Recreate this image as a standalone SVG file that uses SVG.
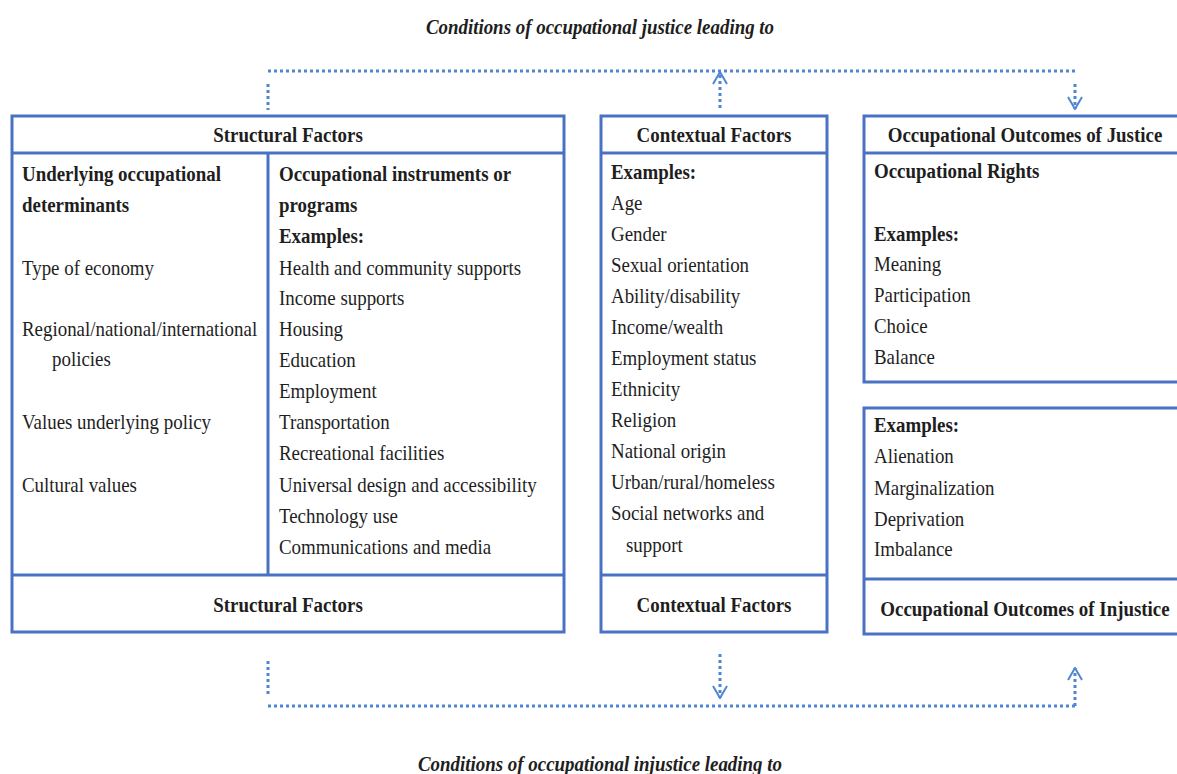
<svg xmlns="http://www.w3.org/2000/svg" width="1177" height="774" viewBox="0 0 1177 774">
<style>
.box{fill:#fff;stroke:#4a72c4;stroke-width:3}
.ln{stroke:#4a72c4;stroke-width:3;fill:none}
.dot{stroke:#4f86d4;stroke-width:3;fill:none;stroke-dasharray:3 3}
.t{font-family:"Liberation Serif","Times New Roman",serif;font-size:22px;fill:#1e1e1e}
.b{font-weight:bold}
.c{text-anchor:middle}
.ti{font-family:"Liberation Serif","Times New Roman",serif;font-size:22px;font-weight:bold;font-style:italic;fill:#1e1e1e;text-anchor:middle}
</style>
<defs>
<marker id="chev" viewBox="0 0 14 16" refX="13" refY="8" markerWidth="14" markerHeight="16" markerUnits="userSpaceOnUse" orient="auto">
<path d="M1,1 L13,8 L1,15" fill="none" stroke="#4f86d4" stroke-width="2"/>
</marker>
</defs>
<g id="connectors">
<path class="dot" d="M268,71 H1075"/>
<path class="dot" d="M268,84 V110"/>
<path class="dot" d="M720,108 V72" marker-end="url(#chev)"/>
<path class="dot" d="M1075,84 V109" marker-end="url(#chev)"/>
<path class="dot" d="M268,706 H1075"/>
<path class="dot" d="M268,661 V696"/>
<path class="dot" d="M720,654 V698" marker-end="url(#chev)"/>
<path class="dot" d="M1075,706 V668" marker-end="url(#chev)"/>
</g>
<g id="structural">
<rect class="box" x="12" y="116" width="552" height="516"/>
<path class="ln" d="M12,153 H564 M12,575 H564 M268,153 V575"/>
</g>
<g id="contextual">
<rect class="box" x="601" y="116" width="226" height="516"/>
<path class="ln" d="M601,153 H827 M601,575 H827"/>
</g>
<g id="justice">
<rect class="box" x="864" y="116" width="330" height="266"/>
<path class="ln" d="M864,153 H1194"/>
</g>
<g id="injustice">
<rect class="box" x="864" y="408" width="330" height="226"/>
<path class="ln" d="M864,579 H1194"/>
</g>
<g id="texts" transform="scale(0.86 1)">
<text class="ti" x="697.67" y="34">Conditions of occupational justice leading to</text>
<text class="ti" x="697.67" y="771">Conditions of occupational injustice leading to</text>
<text class="t b c" x="334.88" y="142">Structural Factors</text>
<text class="t b c" x="334.88" y="612">Structural Factors</text>
<text class="t b c" x="830.23" y="142">Contextual Factors</text>
<text class="t b c" x="830.23" y="612">Contextual Factors</text>
<text class="t b c" x="1191.86" y="142">Occupational Outcomes of Justice</text>
<text class="t b c" x="1191.86" y="616">Occupational Outcomes of Injustice</text>
<text class="t b" x="25.58" y="181">Underlying occupational</text>
<text class="t b" x="25.58" y="212">determinants</text>
<text class="t" x="25.58" y="275">Type of economy</text>
<text class="t" x="25.58" y="336">Regional/national/international</text>
<text class="t" x="60.47" y="366">policies</text>
<text class="t" x="25.58" y="429">Values underlying policy</text>
<text class="t" x="25.58" y="492">Cultural values</text>
<text class="t b" x="324.42" y="181">Occupational instruments or</text>
<text class="t b" x="324.42" y="212">programs</text>
<text class="t b" x="324.42" y="243">Examples:</text>
<text class="t" x="324.42" y="275">Health and community supports</text>
<text class="t" x="324.42" y="305">Income supports</text>
<text class="t" x="324.42" y="336">Housing</text>
<text class="t" x="324.42" y="367">Education</text>
<text class="t" x="324.42" y="398">Employment</text>
<text class="t" x="324.42" y="429">Transportation</text>
<text class="t" x="324.42" y="460">Recreational facilities</text>
<text class="t" x="324.42" y="492">Universal design and accessibility</text>
<text class="t" x="324.42" y="523">Technology use</text>
<text class="t" x="324.42" y="554">Communications and media</text>
<text class="t b" x="710.47" y="179">Examples:</text>
<text class="t" x="710.47" y="210">Age</text>
<text class="t" x="710.47" y="241">Gender</text>
<text class="t" x="710.47" y="272">Sexual orientation</text>
<text class="t" x="710.47" y="303">Ability/disability</text>
<text class="t" x="710.47" y="334">Income/wealth</text>
<text class="t" x="710.47" y="365">Employment status</text>
<text class="t" x="710.47" y="396">Ethnicity</text>
<text class="t" x="710.47" y="427">Religion</text>
<text class="t" x="710.47" y="458">National origin</text>
<text class="t" x="710.47" y="489">Urban/rural/homeless</text>
<text class="t" x="710.47" y="520">Social networks and</text>
<text class="t" x="727.91" y="552">support</text>
<text class="t b" x="1016.28" y="178">Occupational Rights</text>
<text class="t b" x="1016.28" y="241">Examples:</text>
<text class="t" x="1016.28" y="271">Meaning</text>
<text class="t" x="1016.28" y="302">Participation</text>
<text class="t" x="1016.28" y="333">Choice</text>
<text class="t" x="1016.28" y="364">Balance</text>
<text class="t b" x="1016.28" y="432">Examples:</text>
<text class="t" x="1016.28" y="463">Alienation</text>
<text class="t" x="1016.28" y="495">Marginalization</text>
<text class="t" x="1016.28" y="526">Deprivation</text>
<text class="t" x="1016.28" y="556">Imbalance</text>
</g>
</svg>
